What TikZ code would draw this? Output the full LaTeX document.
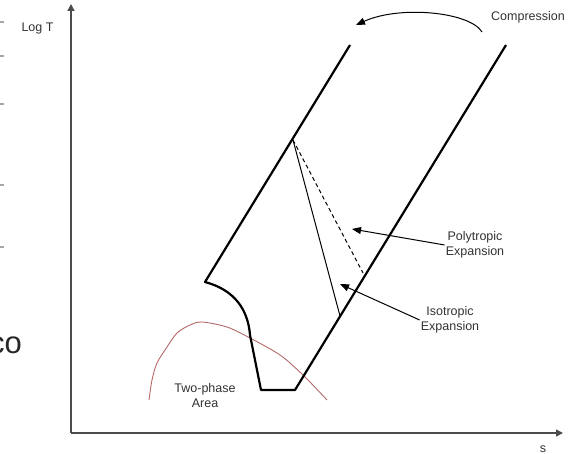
\documentclass[tikz,border=0pt]{standalone}
\usepackage{fontspec}
\setmainfont{Liberation Sans}
\usetikzlibrary{arrows.meta}
\definecolor{domecol}{RGB}{180,105,105}

\begin{document}
\begin{tikzpicture}[x=1pt, y=-1pt, >=Latex, font=\fontsize{12.5}{15}\selectfont,
  lbl/.style={align=center, inner sep=1pt, text=black!80},
  axis/.style={line width=1.5pt, draw=black!70, -{Triangle[length=7pt, width=7pt]}},
  cycleline/.style={line width=2.2pt, line join=round},
  thinline/.style={line width=1pt},
  pointer/.style={line width=1pt, ->, >={Triangle[length=9pt, width=7pt]}}]
\useasboundingbox (0,0) rectangle (577,454);
% cropped leftovers at the left edge
\foreach \ty in {22,56,104,185,247}
  \draw[black!35, line width=1.2pt] (0,\ty) -- (4,\ty);
\node[anchor=base east, inner sep=0, font=\fontsize{31}{31}\selectfont, text=black!85] (co) at (22,353) {co};
% axes
\coordinate (origin) at (71,433);
\coordinate (ytip) at (71,4);
\coordinate (xtip) at (563,433);
\draw[axis] (origin) -- (ytip);
\draw[axis] (origin) -- (xtip);
\node[lbl] (logt) at (37.5,28) {Log T};
\node[lbl] (sax) at (543,449) {s};
% two-phase dome
\draw[domecol, line width=0.9pt] plot[smooth] coordinates {(149,400) (152,380) (157,363) (167,347) (177,333) (190,325) (202,322) (227,327) (250,338) (280,355) (303,375) (327,400)};
\node[lbl] (dome) at (205,396) {Two-phase\\Area};
% cycle
\coordinate (lt) at (350,45);
\coordinate (lb) at (205,282);
\coordinate (kn) at (250,335);
\coordinate (bl) at (261,390);
\coordinate (br) at (295,390);
\coordinate (rt) at (506,45);
\draw[cycleline] (lt) -- (lb) .. controls (235,290) and (248,310) .. (kn) -- (bl) -- (br) -- (rt);
% expansion lines
\coordinate (ex) at (293,140);
\coordinate (isoend) at (340,316);
\coordinate (polyend) at (363,273);
\draw[thinline] (ex) -- (isoend);
\draw[thinline, dash pattern=on 4pt off 3pt] (ex) -- (polyend);
% labels and pointers
\node[lbl] (poly) at (475,245) {Polytropic\\Expansion};
\node[lbl] (iso) at (450,320) {Isotropic\\Expansion};
\coordinate (polytip) at (352,229);
\coordinate (isotip) at (340,284);
\draw[pointer] (poly.west) -- (polytip);
\draw[pointer] (iso.west) -- (isotip);
\node[lbl] (comp) at (528,17) {Compression};
\coordinate (compa) at (482,32);
\coordinate (compb) at (356,25);
\draw[pointer] (compa) .. controls (470,12) and (400,5) .. (compb);
\end{tikzpicture}
\end{document}
